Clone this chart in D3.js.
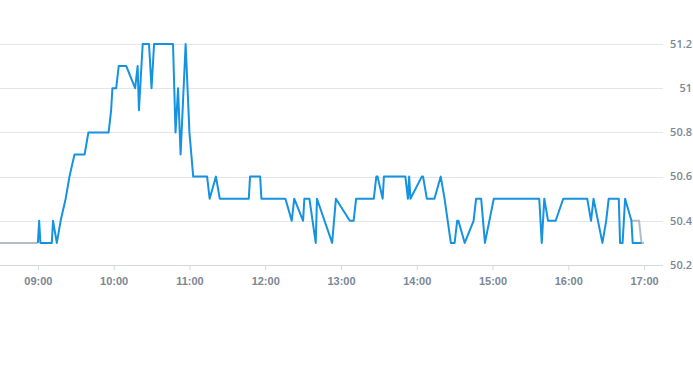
<!DOCTYPE html>
<html><head><meta charset="utf-8">
<script src="https://cdn.jsdelivr.net/npm/d3@7"></script>
<style>body{margin:0;background:#fff;}svg{display:block;font-family:"Open Sans",Arial,sans-serif;}</style>
</head><body><svg id="c" width="693" height="365"></svg>
<script>
const preTimes = ["08:30","09:00"];
const preValues = [50.3,50.3];
const times = ["09:00","09:01","09:02","09:11","09:12","09:15","09:18","09:22","09:25","09:29","09:37","09:40","09:56","09:58","09:59","10:02","10:04","10:10","10:17","10:19","10:20","10:23","10:28","10:30","10:32","10:47","10:49","10:51","10:53","10:57","11:00","11:03","11:14","11:16","11:21","11:24","11:47","11:48","11:56","11:57","12:16","12:21","12:23","12:30","12:31","12:35","12:40","12:41","12:53","12:56","13:07","13:10","13:12","13:26","13:28","13:29","13:33","13:34","13:51","13:53","13:54","13:55","14:04","14:05","14:08","14:14","14:19","14:22","14:27","14:30","14:32","14:33","14:38","14:45","14:47","14:51","14:54","15:01","15:37","15:39","15:41","15:44","15:50","15:56","16:15","16:18","16:20","16:27","16:30","16:32","16:40","16:41","16:43","16:45","16:50","16:51","16:58"];
const values = [50.3,50.4,50.3,50.3,50.4,50.3,50.4,50.5,50.6,50.7,50.7,50.8,50.8,50.9,51.0,51.0,51.1,51.1,51.0,51.1,50.9,51.2,51.2,51.0,51.2,51.2,50.8,51.0,50.7,51.2,50.8,50.6,50.6,50.5,50.6,50.5,50.5,50.6,50.6,50.5,50.5,50.4,50.5,50.4,50.5,50.5,50.3,50.5,50.3,50.5,50.4,50.4,50.5,50.5,50.6,50.6,50.5,50.6,50.6,50.5,50.6,50.5,50.6,50.6,50.5,50.5,50.6,50.5,50.3,50.3,50.4,50.4,50.3,50.4,50.5,50.5,50.3,50.5,50.5,50.3,50.5,50.4,50.4,50.5,50.5,50.4,50.5,50.3,50.4,50.5,50.5,50.3,50.3,50.5,50.4,50.3,50.3];
const postTimes = ["16:50","16:56","16:58","17:00"];
const postValues = [50.4,50.4,50.3,50.3];
const xTicks = ["09:00","10:00","11:00","12:00","13:00","14:00","15:00","16:00","17:00"];
const yTicks = [50.2,50.4,50.6,50.8,51,51.2];

const parse = d3.timeParse("%H:%M");
const svg = d3.select("#c");
const W = 663, yTop = 44, yBottom = 265;
const x = d3.scaleTime().domain([parse("08:30"), parse("17:15")]).range([0, W]);
const y = d3.scaleLinear().domain([50.2, 51.2]).range([yBottom, yTop]);

// grid
svg.append("g").selectAll("line").data(yTicks.slice(1)).join("line")
  .attr("x1",0).attr("x2",W).attr("y1",d=>Math.round(y(d))+0.5).attr("y2",d=>Math.round(y(d))+0.5)
  .attr("stroke","#e3e6ea").attr("stroke-width",1);

// x axis
const xa = svg.append("g").attr("transform",`translate(0,${yBottom+0.5})`)
  .call(d3.axisBottom(x).tickValues(xTicks.map(parse)).tickFormat(d3.timeFormat("%H:%M")).tickSize(5).tickSizeOuter(0));
xa.select(".domain").attr("stroke","#d5d9de").attr("d",`M0,0H${W}`);
xa.selectAll(".tick line").attr("stroke","#d5d9de");
xa.selectAll("text").attr("fill","#7b8794").attr("font-size","11px").attr("font-weight","600").attr("dy","1.05em");

// y labels
svg.append("g").selectAll("text").data(yTicks).join("text")
  .attr("x",692).attr("y",d=>y(d)).attr("dy","0.35em").attr("text-anchor","end")
  .attr("fill","#7b8794").attr("font-size","11px").attr("font-weight","600")
  .text(d=>d3.format("")(d));

const line = d3.line().x(d=>x(d[0])).y(d=>y(d[1]));
const mk = (ts, vs) => ts.map((t,i)=>[parse(t), vs[i]]);
svg.append("path").datum(mk(preTimes,preValues)).attr("d",line).attr("fill","none").attr("stroke","#b4bcc4").attr("stroke-width",2);
svg.append("path").datum(mk(postTimes,postValues)).attr("d",line).attr("fill","none").attr("stroke","#b4bcc4").attr("stroke-width",2);
svg.append("path").datum(mk(times,values)).attr("d",line).attr("fill","none").attr("stroke","#1592e0").attr("stroke-width",2).attr("stroke-linejoin","round");
</script></body></html>
